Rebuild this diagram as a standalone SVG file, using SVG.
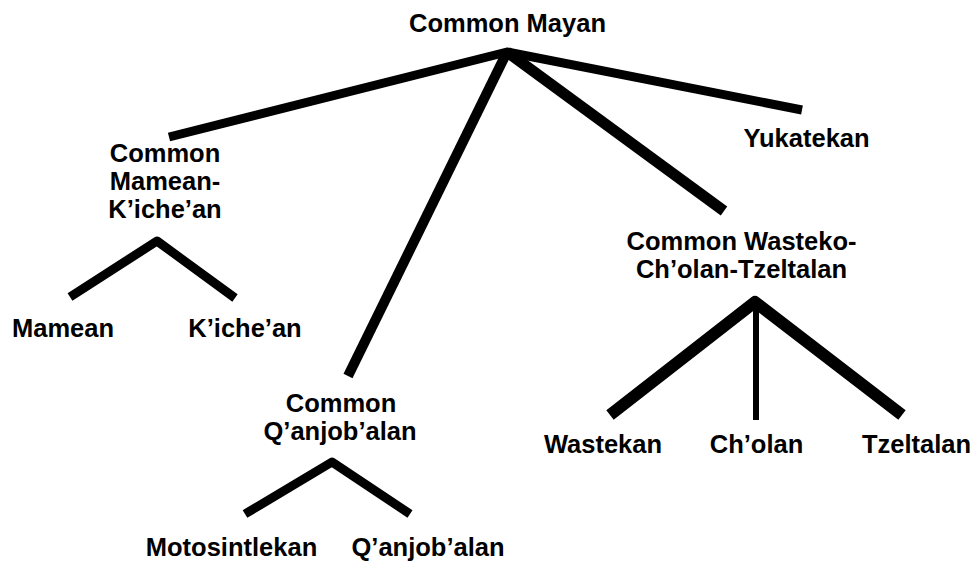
<svg xmlns="http://www.w3.org/2000/svg" width="975" height="562" viewBox="0 0 975 562">
<style>
  text { font-family: "Liberation Sans", Arial, sans-serif; font-weight: bold; font-size: 25.5px; fill: #000; text-anchor: middle; }
  .e { fill: none; stroke: #000; stroke-linecap: butt; stroke-linejoin: round; }
</style>
<rect width="975" height="562" fill="#fff"/>
<g id="connectors">
  <polyline class="e" points="169,137 507,52 802,110" stroke-width="9"/>
  <line class="e" x1="507" y1="52" x2="348" y2="376" stroke-width="10"/>
  <line class="e" x1="507" y1="52" x2="724" y2="211" stroke-width="11"/>
  <polyline class="e" points="70,297 157,241 235,298" stroke-width="9"/>
  <polyline class="e" points="245,514 332,462 410,514" stroke-width="9"/>
  <polyline class="e" points="610,415 755,302 902,415" stroke-width="12"/>
  <line class="e" x1="756" y1="302" x2="756" y2="420" stroke-width="6"/>
</g>
<g id="n-common-mayan"><text x="507.5" y="32">Common Mayan</text></g>
<g id="n-yukatekan"><text x="806.5" y="147">Yukatekan</text></g>
<g id="n-common-mamean-kichean">
  <text x="165" y="162">Common</text>
  <text x="165" y="190">Mamean-</text>
  <text x="165" y="218">K’iche’an</text>
</g>
<g id="n-mamean"><text x="63" y="337">Mamean</text></g>
<g id="n-kichean"><text x="245" y="337">K’iche’an</text></g>
<g id="n-common-qanjobalan">
  <text x="341" y="412">Common</text>
  <text x="340" y="440">Q’anjob’alan</text>
</g>
<g id="n-motosintlekan"><text x="231.5" y="556">Motosintlekan</text></g>
<g id="n-qanjobalan"><text x="428" y="556">Q’anjob’alan</text></g>
<g id="n-common-wasteko">
  <text x="741.5" y="250">Common Wasteko-</text>
  <text x="741.5" y="278">Ch’olan-Tzeltalan</text>
</g>
<g id="n-wastekan"><text x="603" y="453">Wastekan</text></g>
<g id="n-cholan"><text x="756.5" y="453">Ch’olan</text></g>
<g id="n-tzeltalan"><text x="916.5" y="453">Tzeltalan</text></g>
</svg>
